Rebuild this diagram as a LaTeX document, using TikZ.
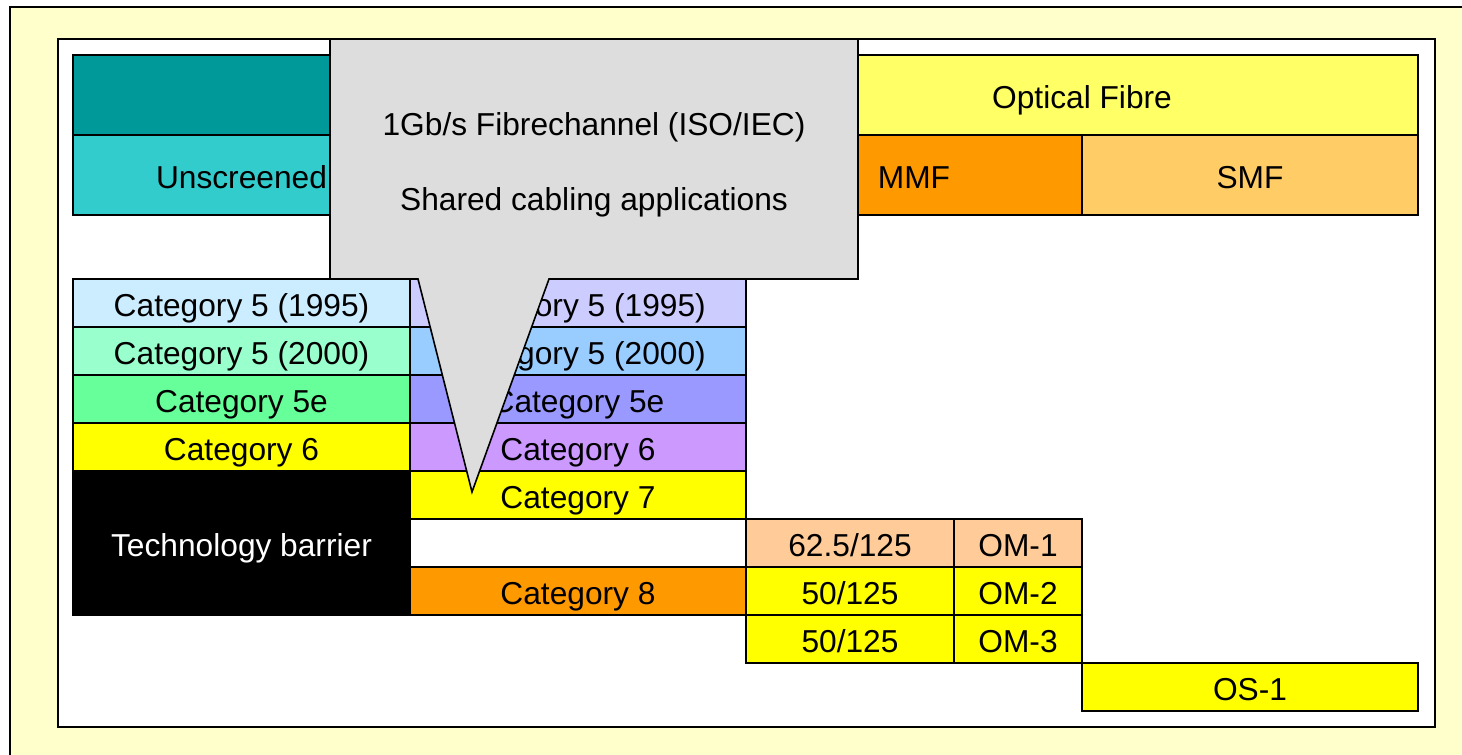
\documentclass[tikz,border=0pt]{standalone}
\usepackage{fontspec}
\setmainfont{Liberation Sans}
\usepackage{tikz}

\tikzset{
  label text/.style={font=\fontsize{31.7}{38}\selectfont, text height=26pt, text depth=0pt},
  cell/.style={draw, line width=1.6pt, inner sep=0pt, outer sep=0pt, label text},
  callout/.style={draw, line width=1.6pt, fill={rgb, 255:red, 221; green, 221; blue, 221}, line join=miter},
}

\begin{document}
\begin{tikzpicture}[x=1pt,y=1pt,yscale=-1,xscale=1]
        \useasboundingbox (0,0) rectangle (1462,755);
        %Frame
        \fill [color={rgb, 255:red, 255; green, 255; blue, 204 }] (10,7) rectangle (1462,755);
        \draw [line width=1.8pt] (1462,7) -- (10,7) -- (10,755);
        \draw [line width=1.8pt, fill=white] (58,39) rectangle (1435,727);
        %Header rows
        \node [cell, fill={rgb, 255:red, 0; green, 153; blue, 153 }, minimum width=673pt, minimum height=80pt] (copperHead) at (409.5,95) {};
        \node [cell, fill={rgb, 255:red, 255; green, 255; blue, 102 }, minimum width=672pt, minimum height=80pt] (fibreHead) at (1082,95) {Optical Fibre};
        \node [cell, fill={rgb, 255:red, 51; green, 204; blue, 204 }, minimum width=337pt, minimum height=80pt] (utpHead) at (241.5,175) {Unscreened};
        \node [cell, fill={rgb, 255:red, 255; green, 153; blue, 0 }, minimum width=336pt, minimum height=80pt] (mmfHead) at (914,175) {MMF};
        \node [cell, fill={rgb, 255:red, 255; green, 204; blue, 102 }, minimum width=336pt, minimum height=80pt] (smfHead) at (1250,175) {SMF};
        %Unscreened column
        \node [cell, fill={rgb, 255:red, 204; green, 236; blue, 255 }, minimum width=337pt, minimum height=48pt] (utpFiveA) at (241.5,303) {Category 5 (1995)};
        \node [cell, fill={rgb, 255:red, 153; green, 255; blue, 204 }, minimum width=337pt, minimum height=48pt] (utpFiveB) at (241.5,351) {Category 5 (2000)};
        \node [cell, fill={rgb, 255:red, 102; green, 255; blue, 153 }, minimum width=337pt, minimum height=48pt] (utpFiveE) at (241.5,399) {Category 5e};
        \node [cell, fill={rgb, 255:red, 255; green, 255; blue, 0 }, minimum width=337pt, minimum height=48pt] (utpSix) at (241.5,447) {Category 6};
        \node [cell, fill=black, text=white, minimum width=337pt, minimum height=144pt] (barrier) at (241.5,543) {Technology barrier};
        %Screened column
        \node [cell, fill={rgb, 255:red, 204; green, 204; blue, 255 }, minimum width=336pt, minimum height=48pt] (stpFiveA) at (578,303) {Category 5 (1995)};
        \node [cell, fill={rgb, 255:red, 153; green, 204; blue, 255 }, minimum width=336pt, minimum height=48pt] (stpFiveB) at (578,351) {Category 5 (2000)};
        \node [cell, fill={rgb, 255:red, 153; green, 153; blue, 255 }, minimum width=336pt, minimum height=48pt] (stpFiveE) at (578,399) {Category 5e};
        \node [cell, fill={rgb, 255:red, 204; green, 153; blue, 255 }, minimum width=336pt, minimum height=48pt] (stpSix) at (578,447) {Category 6};
        \node [cell, fill={rgb, 255:red, 255; green, 255; blue, 0 }, minimum width=336pt, minimum height=48pt] (stpSeven) at (578,495) {Category 7};
        \node [cell, fill={rgb, 255:red, 255; green, 153; blue, 0 }, minimum width=336pt, minimum height=48pt] (stpEight) at (578,591) {Category 8};
        %Fibre cells
        \node [cell, fill={rgb, 255:red, 255; green, 204; blue, 153 }, minimum width=208pt, minimum height=48pt] (mmfOne) at (850,543) {62.5/125};
        \node [cell, fill={rgb, 255:red, 255; green, 204; blue, 153 }, minimum width=128pt, minimum height=48pt] (omOne) at (1018,543) {OM-1};
        \node [cell, fill={rgb, 255:red, 255; green, 255; blue, 0 }, minimum width=208pt, minimum height=48pt] (mmfTwo) at (850,591) {50/125};
        \node [cell, fill={rgb, 255:red, 255; green, 255; blue, 0 }, minimum width=128pt, minimum height=48pt] (omTwo) at (1018,591) {OM-2};
        \node [cell, fill={rgb, 255:red, 255; green, 255; blue, 0 }, minimum width=208pt, minimum height=48pt] (mmfThree) at (850,639) {50/125};
        \node [cell, fill={rgb, 255:red, 255; green, 255; blue, 0 }, minimum width=128pt, minimum height=48pt] (omThree) at (1018,639) {OM-3};
        \node [cell, fill={rgb, 255:red, 255; green, 255; blue, 0 }, minimum width=336pt, minimum height=48pt] (osOne) at (1250,687) {OS-1};
        %Callout
        \draw [callout] (330,39) -- (858,39) -- (858,279) -- (549,279) -- (472,492) -- (418,279) -- (330,279) -- cycle;
        \node [label text] (fcText) at (594,122) {1Gb/s Fibrechannel (ISO/IEC)};
        \node [label text] (sharedText) at (594,197) {Shared cabling applications};
\end{tikzpicture}
\end{document}
